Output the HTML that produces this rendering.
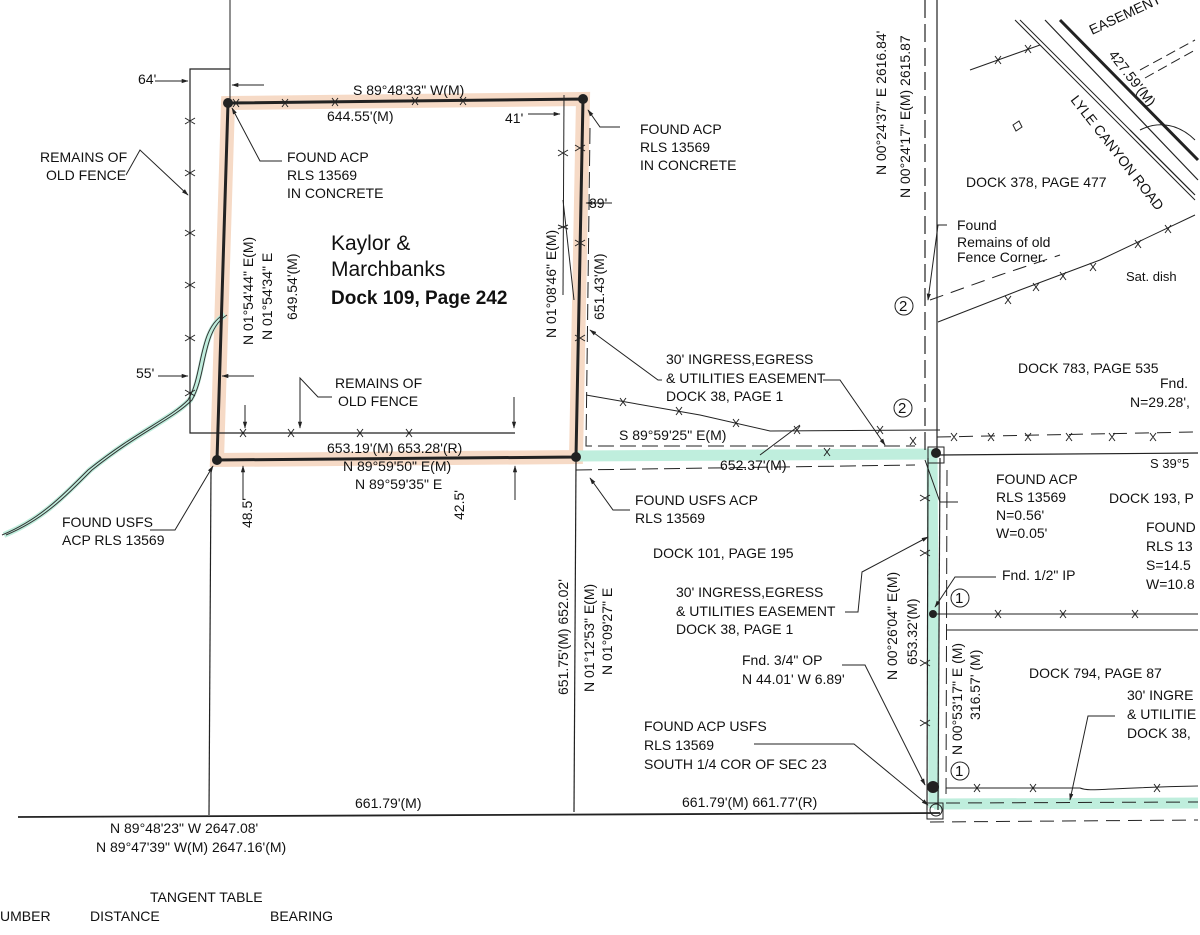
<!DOCTYPE html>
<html><head><meta charset="utf-8"><style>
html,body{margin:0;padding:0;background:#fff;}
svg{display:block;}
text{font-family:"Liberation Sans Narrow","Liberation Sans",sans-serif;fill:#111;}
</style></head><body>
<svg width="1200" height="935" viewBox="0 0 1200 935" xmlns="http://www.w3.org/2000/svg" font-size="14">
<defs>
<marker id="a" viewBox="0 0 10 10" refX="9" refY="5" markerWidth="7" markerHeight="7" orient="auto-start-reverse"><path d="M0,2 L10,5 L0,8 z" fill="#222"/></marker>
</defs>
<rect width="1200" height="935" fill="#fff"/>
<path d="M228,103 L583,99 L576,457 L217,460 Z" fill="none" stroke="#f6dac6" stroke-width="14"/>
<g stroke="#bfeedd" stroke-width="11" fill="none">
<path d="M578,456 L937,454"/>
<path d="M932,452 L934,808"/>
<path d="M934,804 L1198,803"/>
<path d="M4,535 C40,520 60,500 90,470 C140,430 170,420 190,400 C205,375 200,330 225,315" stroke-width="6"/>
</g>
<path d="M4,535 C40,520 60,500 90,470 C140,430 170,420 190,400 C205,375 200,330 225,315" stroke="#333" stroke-width="1" fill="none" transform="translate(2,0)"/>
<path d="M4,535 C40,520 60,500 90,470 C140,430 170,420 190,400 C205,375 200,330 225,315" stroke="#333" stroke-width="1" fill="none" transform="translate(-2,0)"/>

<g stroke="#222" fill="none">
<path d="M228,103 L583,99 L576,457 L217,460 Z" stroke-width="3"/>
<path d="M230,69 L190,69 L190,433 L515,433" stroke-width="1.2"/>
<path d="M230,0 L230,103" stroke-width="1"/>
<path d="M211,470 L209,815" stroke-width="1.2"/>
<path d="M576,462 L574,812" stroke-width="1.2"/>
<path d="M18,817 L940,813" stroke-width="1.8"/>
<path d="M564,95 L563,295" stroke-width="1"/>
<path d="M563,200 L574,300"/>
<path d="M590,128 L586,446 L915,446" stroke-width="1" stroke-dasharray="16,6"/>
<path d="M576,470 L915,465" stroke-width="1" stroke-dasharray="16,6"/>
<path d="M586,395 L700,415 L770,431 L940,430" stroke-width="1"/>
<path d="M760,455 L800,425"/>
<path d="M925,0 L925,455" stroke-width="1.2" stroke-dasharray="18,6"/>
<path d="M937,0 L937,455" stroke-width="1.2"/>
<path d="M940,455 L1198,453" stroke-width="1.2"/>
<path d="M937,437 L1195,432" stroke-width="1" stroke-dasharray="14,8"/>
<path d="M928,458 L927,810" stroke-width="1.2"/>
<path d="M940,458 L938,810" stroke-width="1.2"/>
<path d="M947,470 L946,800" stroke-width="1" stroke-dasharray="16,6"/>
<path d="M937,614 L1198,614" stroke-width="1"/>
<path d="M946,630 L1198,630" stroke-width="1"/>
<path d="M946,788 L1080,788 C1090,792 1100,788 1198,786" stroke-width="1"/>
<path d="M946,803 L1198,802" stroke-width="1" stroke-dasharray="14,8"/>
<path d="M930,822 L1198,820" stroke-width="1" stroke-dasharray="14,8"/>
<rect x="928" y="447" width="16" height="16" stroke-width="1"/>
<rect x="927" y="803" width="16" height="16" stroke-width="1"/>
<path d="M938,322 L1020,290 L1100,260 L1195,215" stroke-width="1"/>
<path d="M930,300 L1000,275 L1060,255" stroke-width="1" stroke-dasharray="14,8"/>
<path d="M970,70 L1040,45" stroke-width="1"/>
<path d="M1015,20 L1195,200" stroke-width="1"/>
<path d="M1020,20 L1190,190" stroke-width="1"/>
<path d="M1045,20 L1198,180" stroke-width="1.2"/>
<path d="M1060,20 L1198,160" stroke-width="3"/>
<path d="M1130,130 L1195,195" stroke-width="1.2"/>
<path d="M1140,130 C1160,120 1180,125 1195,140"/>
<path d="M1140,70 L1195,40 M1145,78 L1195,50" stroke-dasharray="10,5"/>
<path d="M1013,125 l6,-4 l3,6 l-6,4 z"/>
</g>
<g stroke="#222" stroke-width="1">
<path d="M185,118l10,6m0,-6l-10,6 M185,170l10,6m0,-6l-10,6 M185,230l10,6m0,-6l-10,6 M185,282l10,6m0,-6l-10,6 M185,335l10,6m0,-6l-10,6 M185,390l10,6m0,-6l-10,6"/>
<path d="M233,99l6,8m0,-8l-6,8 M282,99l6,8m0,-8l-6,8 M332,98l6,8m0,-8l-6,8 M412,97l6,8m0,-8l-6,8 M460,97l6,8m0,-8l-6,8"/>
<path d="M240,429l6,8m0,-8l-6,8 M288,429l6,8m0,-8l-6,8 M357,429l6,8m0,-8l-6,8 M406,429l6,8m0,-8l-6,8"/>
<path d="M558,150l10,6m0,-6l-10,6 M558,225l10,4m0,-4l-10,4 M575,145l10,6m0,-6l-10,6 M575,240l10,6m0,-6l-10,6 M575,335l10,6m0,-6l-10,6"/>
<path d="M620,398l6,8m0,-8l-6,8 M676,407l6,8m0,-8l-6,8 M733,419l6,8m0,-8l-6,8 M794,426l6,8m0,-8l-6,8 M824,448l6,8m0,-8l-6,8 M877,426l6,8m0,-8l-6,8 M910,437l6,8m0,-8l-6,8"/>
<path d="M951,433l6,8m0,-8l-6,8 M988,433l6,8m0,-8l-6,8 M1025,433l6,8m0,-8l-6,8 M1066,433l6,8m0,-8l-6,8 M1109,433l6,8m0,-8l-6,8 M1150,433l6,8m0,-8l-6,8"/>
<path d="M995,610l6,8m0,-8l-6,8 M1060,610l6,8m0,-8l-6,8 M1132,610l6,8m0,-8l-6,8"/>
<path d="M974,784l6,8m0,-8l-6,8 M1030,784l6,8m0,-8l-6,8 M1154,784l6,8m0,-8l-6,8"/>
<path d="M920,495l10,6m0,-6l-10,6 M920,550l10,6m0,-6l-10,6 M920,660l10,6m0,-6l-10,6 M920,720l10,6m0,-6l-10,6"/>
<path d="M1005,296l6,8m0,-8l-6,8 M1033,283l6,8m0,-8l-6,8 M1060,272l6,8m0,-8l-6,8 M1090,263l6,8m0,-8l-6,8 M1135,240l6,8m0,-8l-6,8 M1165,225l6,8m0,-8l-6,8"/>
<path d="M995,56l6,8m0,-8l-6,8 M1025,45l6,8m0,-8l-6,8"/>
</g>
<g fill="#222">
<circle cx="228" cy="103" r="5"/><circle cx="583" cy="99" r="5"/>
<circle cx="576" cy="457" r="5"/><circle cx="217" cy="460" r="5"/>
<circle cx="936" cy="453" r="5"/><circle cx="933" cy="614" r="4"/><circle cx="933" cy="787" r="6"/>
<circle cx="936" cy="810" r="6" fill="none" stroke="#222"/>
</g>
<g stroke="#222" stroke-width="1" fill="none">
<path d="M155,81 L188,81" marker-end="url(#a)"/>
<path d="M264,85 L232,85" marker-end="url(#a)"/>
<path d="M158,376 L188,376" marker-end="url(#a)"/>
<path d="M254,376 L222,376" marker-end="url(#a)"/>
<path d="M528,114 L560,114" marker-end="url(#a)"/>
<path d="M612,203 L586,203" marker-end="url(#a)"/>
<path d="M126,175 L140,150 L188,195" marker-end="url(#a)"/>
<path d="M282,161 L260,161 L232,108" marker-end="url(#a)"/>
<path d="M620,127 L600,127 L588,110" marker-end="url(#a)"/>
<path d="M332,397 L318,397 L300,378 L300,428" marker-end="url(#a)"/>
<path d="M245,405 L245,428" marker-end="url(#a)"/>
<path d="M514,397 L514,428" marker-end="url(#a)"/>
<path d="M243,500 L243,466" marker-end="url(#a)"/>
<path d="M515,500 L515,466" marker-end="url(#a)"/>
<path d="M150,530 L175,530 L213,466" marker-end="url(#a)"/>
<path d="M630,510 L613,510 L590,478" marker-end="url(#a)"/>
<path d="M662,380 L658,380 L590,330" marker-end="url(#a)"/>
<path d="M823,380 L840,380 L885,445" marker-end="url(#a)"/>
<path d="M958,502 L940,502 L925,460"/>
<path d="M845,612 L858,612 L862,572 L928,537" marker-end="url(#a)"/>
<path d="M996,577 L955,577 L935,607" marker-end="url(#a)"/>
<path d="M842,665 L865,665 L925,785" marker-end="url(#a)"/>
<path d="M754,744 L854,744 L928,805" marker-end="url(#a)"/>
<path d="M1115,716 L1088,716 L1070,800" marker-end="url(#a)"/>
<path d="M947,225 L938,225 L928,300" marker-end="url(#a)"/>
</g>
<g font-size="15">
<circle cx="904" cy="306" r="9" fill="none" stroke="#222"/><text x="899" y="311">2</text>
<circle cx="903" cy="408" r="9" fill="none" stroke="#222"/><text x="898" y="413">2</text>
<circle cx="960" cy="598" r="9" fill="none" stroke="#222"/><text x="955" y="603">1</text>
<circle cx="960" cy="771" r="9" fill="none" stroke="#222"/><text x="955" y="776">1</text>
</g>
<text x="138" y="84">64'</text>
<text x="136" y="378">55'</text>
<text x="353" y="95">S 89°48'33" W(M)</text>
<text x="327" y="121">644.55'(M)</text>
<text x="505" y="123">41'</text>
<text x="589" y="208">39'</text>
<text x="40" y="162">REMAINS OF</text><text x="46" y="180">OLD FENCE</text>
<text x="287" y="162">FOUND ACP</text><text x="287" y="180">RLS 13569</text><text x="287" y="198">IN CONCRETE</text>
<text x="640" y="134">FOUND ACP</text><text x="640" y="152">RLS 13569</text><text x="640" y="170">IN CONCRETE</text>
<text x="331" y="250" font-size="21">Kaylor &amp;</text>
<text x="331" y="276" font-size="21">Marchbanks</text>
<text x="331" y="304" font-size="19" font-weight="bold">Dock 109, Page 242</text>
<text transform="translate(253,345) rotate(-90)">N 01°54'44" E(M)</text>
<text transform="translate(272,340) rotate(-90)">N 01°54'34" E</text>
<text transform="translate(297,320) rotate(-90)">649.54'(M)</text>
<text transform="translate(556,338) rotate(-90)">N 01°08'46" E(M)</text>
<text transform="translate(604,320) rotate(-90)">651.43'(M)</text>
<text x="335" y="388">REMAINS OF</text><text x="338" y="406">OLD FENCE</text>
<text x="327" y="453">653.19'(M) 653.28'(R)</text>
<text x="343" y="471">N 89°59'50" E(M)</text>
<text x="355" y="489">N 89°59'35" E</text>
<text transform="translate(252,528) rotate(-90)">48.5'</text>
<text transform="translate(464,520) rotate(-90)">42.5'</text>
<text x="62" y="527">FOUND USFS</text><text x="62" y="545">ACP RLS 13569</text>
<text x="666" y="364">30' INGRESS,EGRESS</text>
<text x="666" y="383">&amp; UTILITIES EASEMENT</text>
<text x="666" y="401">DOCK 38, PAGE 1</text>
<text x="619" y="440">S 89°59'25" E(M)</text>
<text x="720" y="470">652.37'(M)</text>
<text x="635" y="505">FOUND USFS ACP</text><text x="635" y="523">RLS 13569</text>
<text x="653" y="558">DOCK 101, PAGE 195</text>
<text x="676" y="597">30' INGRESS,EGRESS</text>
<text x="676" y="616">&amp; UTILITIES EASEMENT</text>
<text x="676" y="634">DOCK 38, PAGE 1</text>
<text x="742" y="665">Fnd. 3/4" OP</text>
<text x="742" y="684">N 44.01' W 6.89'</text>
<text x="644" y="731">FOUND ACP USFS</text><text x="644" y="750">RLS 13569</text><text x="644" y="769">SOUTH 1/4 COR OF SEC 23</text>
<text x="682" y="807">661.79'(M) 661.77'(R)</text>
<text x="355" y="808">661.79'(M)</text>
<text transform="translate(568,695) rotate(-90)">651.75'(M) 652.02'</text>
<text transform="translate(594,692) rotate(-90)">N 01°12'53" E(M)</text>
<text transform="translate(612,675) rotate(-90)">N 01°09'27" E</text>
<text x="110" y="833">N 89°48'23" W 2647.08'</text>
<text x="96" y="852">N 89°47'39" W(M) 2647.16'(M)</text>
<text x="150" y="902">TANGENT TABLE</text>
<text x="0" y="921" fill="#555">UMBER</text><text x="90" y="921" fill="#555">DISTANCE</text><text x="270" y="921" fill="#555">BEARING</text>
<text transform="translate(886,175) rotate(-90)">N 00°24'37" E 2616.84'</text>
<text transform="translate(910,198) rotate(-90)">N 00°24'17" E(M)  2615.87</text>
<text x="966" y="187">DOCK 378, PAGE 477</text>
<text x="957" y="230">Found</text><text x="957" y="247">Remains of old</text><text x="957" y="262">Fence Corner.</text>
<text x="1126" y="281" font-size="13">Sat. dish</text>
<text x="1018" y="373">DOCK 783, PAGE 535</text>
<text x="1160" y="388">Fnd.</text><text x="1130" y="407">N=29.28',</text>
<text x="1150" y="468" font-size="13">S 39°5</text>
<text x="996" y="484">FOUND ACP</text><text x="996" y="502">RLS 13569</text><text x="996" y="520">N=0.56'</text><text x="996" y="538">W=0.05'</text>
<text x="1109" y="503">DOCK 193, P</text>
<text x="1146" y="532">FOUND</text><text x="1146" y="551">RLS 13</text><text x="1146" y="570">S=14.5</text><text x="1146" y="589">W=10.8</text>
<text x="1002" y="580">Fnd. 1/2" IP</text>
<text transform="translate(897,680) rotate(-90)">N 00°26'04" E(M)</text>
<text transform="translate(917,665) rotate(-90)">653.32'(M)</text>
<text transform="translate(962,755) rotate(-90)">N 00°53'17" E (M)</text>
<text transform="translate(980,720) rotate(-90)">316.57' (M)</text>
<text x="1029" y="678">DOCK 794, PAGE 87</text>
<text x="1127" y="700">30' INGRE</text><text x="1127" y="719">&amp; UTILITIE</text><text x="1127" y="738">DOCK 38,</text>
<text transform="translate(1070,100) rotate(52)">LYLE CANYON ROAD</text>
<text transform="translate(1108,55) rotate(52)">427.59'(M)</text>
<text transform="translate(1092,35) rotate(-25)">EASEMENT</text>
</svg>
</body></html>
